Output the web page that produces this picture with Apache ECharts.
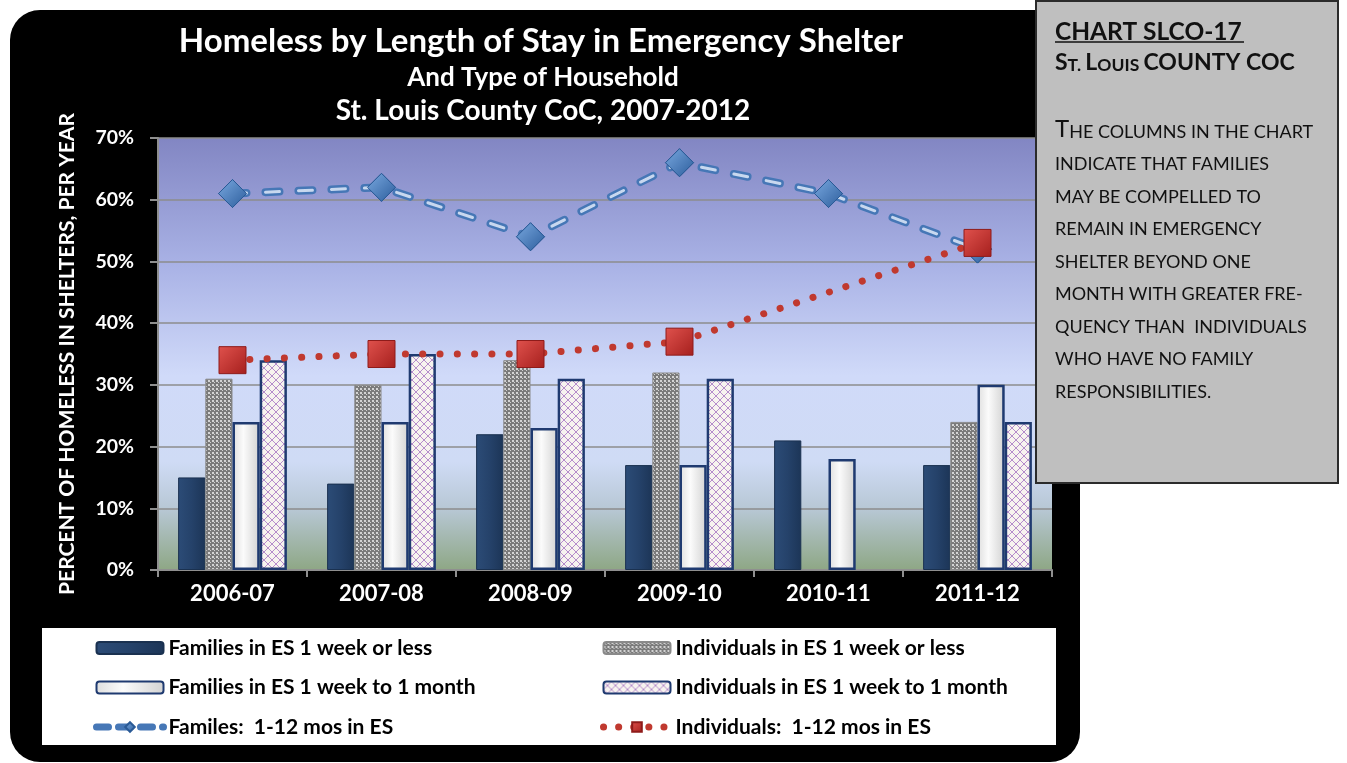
<!DOCTYPE html>
<html>
<head>
<meta charset="utf-8">
<script src="https://cdn.jsdelivr.net/npm/echarts@6/dist/echarts.min.js"></script>
<style>
html, body { margin: 0; padding: 0; background: #fff; }
#wrap { position: relative; width: 1347px; height: 763px; }
#bg { position: absolute; left: 10px; top: 10px; width: 1070px; height: 752px; background: #000; border-radius: 30px; }
#legbox { position: absolute; left: 42px; top: 628px; width: 1014px; height: 117px; background: #fff; }
#main { position: absolute; left: 0; top: 0; width: 1347px; height: 763px; }
</style>
</head>
<body>
<div id="wrap">
    <div id="bg"></div>
    <div id="legbox"></div>
    <div id="main"></div>
</div>
<script>
// data (percent)
var categories = ['2006-07', '2007-08', '2008-09', '2009-10', '2010-11', '2011-12']
var famWeek = [15, 14, 22, 17, 21, 17]
var indWeek = [31, 30, 34, 32, null, 24]
var famMonth = [24, 24, 23, 17, 18, 30]
var indMonth = [34, 35, 31, 31, null, 24]
var famYear = [61, 62, 54, 66, 61, 52]
var indYear = [34, 35, 35, 37, null, 53]
var yTicks = { min: 0, max: 70, step: 10 }

var FONT = 'Lato'

// small texture tiles for the patterned columns
function dotsTile() {
    var c = document.createElement('canvas')
    c.width = 4; c.height = 4
    var g = c.getContext('2d')
    g.fillStyle = '#7b7b7b'; g.fillRect(0, 0, 4, 4)
    g.fillStyle = '#d4d4d4'; g.fillRect(0, 0, 2, 2); g.fillRect(2, 2, 1, 1)
    return c
}
function hatchTile() {
    var c = document.createElement('canvas')
    c.width = 8; c.height = 8
    var g = c.getContext('2d')
    g.fillStyle = '#f7f3ef'; g.fillRect(0, 0, 8, 8)
    g.strokeStyle = '#b58ccb'; g.lineWidth = 1
    g.beginPath(); g.moveTo(0, 0); g.lineTo(8, 8); g.moveTo(8, 0); g.lineTo(0, 8); g.stroke()
    return c
}

var LG = echarts.graphic.LinearGradient
var navy = new LG(0, 0, 1, 0, [{ offset: 0, color: '#2c4c77' }, { offset: 0.5, color: '#25426a' }, { offset: 1, color: '#1c3557' }])
var marble = new LG(0, 0, 1, 0, [{ offset: 0, color: '#dedede' }, { offset: 0.4, color: '#fbfbfb' }, { offset: 1, color: '#d2d2d2' }])
var plotBg = new LG(0, 0, 0, 1, [
    { offset: 0, color: '#8286c3' },
    { offset: 0.3, color: '#aab3e6' },
    { offset: 0.55, color: '#d0daf9' },
    { offset: 0.75, color: '#cfdbf5' },
    { offset: 0.86, color: '#b7c7d4' },
    { offset: 1, color: '#8ea785' }
])
var diamondFill = new LG(0, 0, 1, 1, [{ offset: 0, color: '#7aa9e0' }, { offset: 1, color: '#2c5d9c' }])
var squareFill = new LG(0, 0, 1, 1, [{ offset: 0, color: '#e0524d' }, { offset: 1, color: '#a51f1d' }])

var famDash = [14, 19]

var chart = echarts.init(document.getElementById('main'))

var legendText = { color: '#000', fontWeight: 'bold', fontSize: 21, fontFamily: FONT, lineHeight: 22 }

var bodyLines = [
    '{b|T}{s|HE COLUMNS IN THE CHART}',
    '{s|INDICATE THAT FAMILIES}',
    '{s|MAY BE COMPELLED TO}',
    '{s|REMAIN IN EMERGENCY}',
    '{s|SHELTER BEYOND ONE}',
    '{s|MONTH WITH GREATER FRE-}',
    '{s|QUENCY THAN  INDIVIDUALS}',
    '{s|WHO HAVE NO FAMILY}',
    '{s|RESPONSIBILITIES.}'
]
var sideRich = {
    b: { fontSize: 24, fontFamily: FONT, fill: '#111', verticalAlign: 'bottom', lineHeight: 26 },
    s: { fontSize: 18, fontFamily: FONT, fill: '#111', verticalAlign: 'bottom', lineHeight: 26 }
}
var sideGraphics = [
    { type: 'rect', z: 100, shape: { x: 1036, y: 1, width: 302, height: 482 }, style: { fill: '#bfbfbf', stroke: '#2b2b2b', lineWidth: 2 } },
    { type: 'text', z: 101, x: 1055, y: 45, style: { text: 'CHART SLCO-17', font: 'bold 24.5px ' + FONT, fill: '#111', verticalAlign: 'bottom' } },
    { type: 'line', z: 101, shape: { x1: 1055, y1: 42, x2: 1244, y2: 42 }, style: { stroke: '#111', lineWidth: 1.5 } },
    { type: 'text', z: 101, x: 1055, y: 74, style: {
        text: '{B|S}{S|T.} {B|L}{S|OUIS} {B|COUNTY COC}',
        font: 'bold 17.5px ' + FONT, fill: '#111', verticalAlign: 'bottom',
        rich: {
            B: { fontSize: 23, fontWeight: 'bold', fontFamily: FONT, fill: '#111', verticalAlign: 'bottom', lineHeight: 26 },
            S: { fontSize: 17.5, fontWeight: 'bold', fontFamily: FONT, fill: '#111', verticalAlign: 'bottom', lineHeight: 26 }
        }
    } }
]
bodyLines.forEach(function (t, i) {
    sideGraphics.push({ type: 'text', z: 101, x: 1055, y: 141 + i * 32.5, style: { text: t, font: '18px ' + FONT, fill: '#111', verticalAlign: 'bottom', rich: sideRich } })
})

chart.setOption({
    backgroundColor: 'transparent',
    animation: false,
    title: [
        { text: 'Homeless by Length of Stay in Emergency Shelter', left: 541, top: 25, padding: 0, textAlign: 'center',
          textStyle: { color: '#fff', fontFamily: FONT, fontWeight: 'bold', fontSize: 33, lineHeight: 33 } },
        { text: 'And Type of Household', left: 543, top: 65, padding: 0, textAlign: 'center',
          textStyle: { color: '#fff', fontFamily: FONT, fontWeight: 'bold', fontSize: 26, lineHeight: 26 } },
        { text: 'St. Louis County CoC, 2007-2012', left: 543, top: 97, padding: 0, textAlign: 'center',
          textStyle: { color: '#fff', fontFamily: FONT, fontWeight: 'bold', fontSize: 28, lineHeight: 28 } }
    ],
    grid: {
        left: 158, right: 295, top: 138, bottom: 193,
        show: true, borderWidth: 0, backgroundColor: plotBg
    },
    legend: [
        { orient: 'vertical', left: 93, top: 637, padding: 0, itemWidth: 67, itemHeight: 12, itemGap: 17.5, textStyle: legendText,
          data: ['Families in ES 1 week or less', 'Families in ES 1 week to 1 month',
              { name: 'Familes:  1-12 mos in ES', lineStyle: { width: 7, type: [12, 10], cap: 'round' } }] },
        { orient: 'vertical', left: 600, top: 637, padding: 0, itemWidth: 67, itemHeight: 12, itemGap: 17.5, textStyle: legendText,
          data: ['Individuals in ES 1 week or less', 'Individuals in ES 1 week to 1 month',
              { name: 'Individuals:  1-12 mos in ES', lineStyle: { width: 7, type: [0.1, 15], cap: 'round' } }] }
    ],
    xAxis: {
        type: 'category',
        data: categories,
        axisLine: { lineStyle: { color: '#8f8f8f', width: 2 } },
        axisTick: { show: true, length: 7, lineStyle: { color: '#8f8f8f', width: 2 } },
        axisLabel: { color: '#fff', fontFamily: FONT, fontWeight: 'bold', fontSize: 22, margin: 13 }
    },
    yAxis: {
        type: 'value',
        min: yTicks.min, max: yTicks.max, interval: yTicks.step,
        name: 'PERCENT OF HOMELESS IN SHELTERS, PER YEAR',
        nameLocation: 'middle', nameGap: 80,
        nameTextStyle: { color: '#fff', fontFamily: FONT, fontWeight: 'bold', fontSize: 21 },
        axisLine: { show: true, lineStyle: { color: '#8f8f8f', width: 2 } },
        axisTick: { show: true, length: 8, lineStyle: { color: '#8f8f8f', width: 2 } },
        axisLabel: { color: '#fff', fontFamily: FONT, fontWeight: 'bold', fontSize: 19.5, margin: 24, formatter: '{value}%' },
        splitLine: { lineStyle: { color: '#8c8c8c', width: 1.5 } }
    },
    series: [
        { name: 'Families in ES 1 week or less', type: 'bar', data: famWeek, barGap: '0%', barCategoryGap: '27%',
          itemStyle: { color: navy, borderColor: '#1a3150', borderWidth: 1 } },
        { name: 'Individuals in ES 1 week or less', type: 'bar', data: indWeek,
          itemStyle: { color: { image: dotsTile(), repeat: 'repeat' }, borderColor: '#8a8a8a', borderWidth: 1 } },
        { name: 'Families in ES 1 week to 1 month', type: 'bar', data: famMonth,
          itemStyle: { color: marble, borderColor: '#1f3a70', borderWidth: 2.5 } },
        { name: 'Individuals in ES 1 week to 1 month', type: 'bar', data: indMonth,
          itemStyle: { color: { image: hatchTile(), repeat: 'repeat' }, borderColor: '#1f3a70', borderWidth: 2.5 } },
        { name: 'Familes:  1-12 mos in ES', type: 'line', data: famYear, z: 5,
          symbol: 'diamond', symbolSize: 28,
          itemStyle: { color: diamondFill, borderColor: '#2a5a96', borderWidth: 1 },
          lineStyle: { color: '#4677b6', width: 8, type: famDash, cap: 'round' } },
        // light core of the double dashed line
        { name: 'famInner', type: 'line', data: famYear, z: 6, symbol: 'none', silent: true,
          lineStyle: { color: '#c8d8ef', width: 3, type: famDash, cap: 'round' } },
        // diamonds drawn again over the core line
        { name: 'famMarks', type: 'line', data: famYear, z: 7, symbol: 'diamond', symbolSize: 28, silent: true,
          itemStyle: { color: diamondFill, borderColor: '#2a5a96', borderWidth: 1 },
          lineStyle: { width: 0, opacity: 0 } },
        { name: 'Individuals:  1-12 mos in ES', type: 'line', data: indYear, z: 8, connectNulls: true,
          symbol: 'rect', symbolSize: 27,
          itemStyle: { color: squareFill, borderColor: '#8e1b1a', borderWidth: 1 },
          lineStyle: { color: '#c0392f', width: 7, type: [0.1, 17.2], cap: 'round' } }
    ],
    graphic: sideGraphics
})
</script>
</body>
</html>
